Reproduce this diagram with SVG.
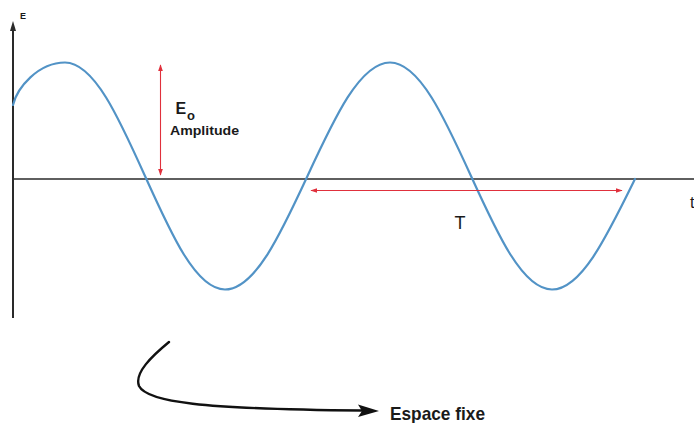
<svg xmlns="http://www.w3.org/2000/svg" width="694" height="423" viewBox="0 0 694 423">
<defs>
<style>
.axis{stroke:#2a2a2a;fill:none}
.wave{stroke:#5293c6;stroke-width:2.2;fill:none;stroke-linecap:round}
.red{stroke:#e0303c;stroke-width:1.1;fill:none}
.lbl{font-family:"Liberation Sans",Arial,sans-serif;fill:#1a1a1a}
.b{font-weight:bold}
</style>
<marker id="redArrow" viewBox="0 0 10 10" refX="9" refY="5" markerWidth="7" markerHeight="7" orient="auto-start-reverse" markerUnits="userSpaceOnUse">
<path d="M0,1.5 L10,5 L0,8.5 Z" fill="#e0303c"/>
</marker>
</defs>
<rect width="694" height="423" fill="#ffffff"/>
<g id="axes">
<line class="axis" x1="13" y1="179" x2="694" y2="179" stroke-width="1.6" stroke="#404040"/>
<line class="axis" x1="13" y1="318" x2="13" y2="28" stroke-width="2"/>
<path d="M13,21 L10,31 L16,31 Z" fill="#2a2a2a"/>
<text class="lbl b" x="20" y="19" font-size="9">E</text>
<text class="lbl" x="690" y="208" font-size="16">t</text>
</g>
<g id="wave">
<path class="wave" d="M13,105 C17,88 38,62.5 65,62.5 C94,62.5 118.9,117.9 145,176 C171.1,234.1 196,289.5 225,289.5 C254.9,289.5 280.6,234.1 307.5,176 C334.4,117.9 360.1,62.5 390,62.5 C419.3,62.5 444.6,117.9 471,176 C497.4,234.1 522.7,289.5 552,289.5 C581.3,289.5 607,236 635,179"/>
</g>
<g id="connectors">
<line class="red" x1="160.5" y1="65" x2="160.5" y2="175" marker-start="url(#redArrow)" marker-end="url(#redArrow)"/>
<line class="red" x1="311" y1="190.5" x2="622" y2="190.5" marker-start="url(#redArrow)" marker-end="url(#redArrow)"/>
<path d="M169,342 C152,356 134,373 139,386 C147,402 200,409 362,410.5" fill="none" stroke="#111" stroke-width="2.4" stroke-linecap="round"/>
<path d="M379,411 L358,404.5 L362,411 L358,417 Z" fill="#111"/>
</g>
<g id="amplitude">
<text class="lbl b" x="175.5" y="113.5" font-size="16">E</text>
<text class="lbl b" x="187" y="119.5" font-size="13">o</text>
<text class="lbl b" x="170" y="135" font-size="13.5" textLength="69" lengthAdjust="spacingAndGlyphs">Amplitude</text>
</g>
<g id="period">
<text class="lbl" x="460" y="228.5" font-size="18" text-anchor="middle">T</text>
</g>
<g id="espace">
<text class="lbl b" x="390" y="419.5" font-size="19" textLength="95" lengthAdjust="spacingAndGlyphs">Espace fixe</text>
</g>
</svg>
